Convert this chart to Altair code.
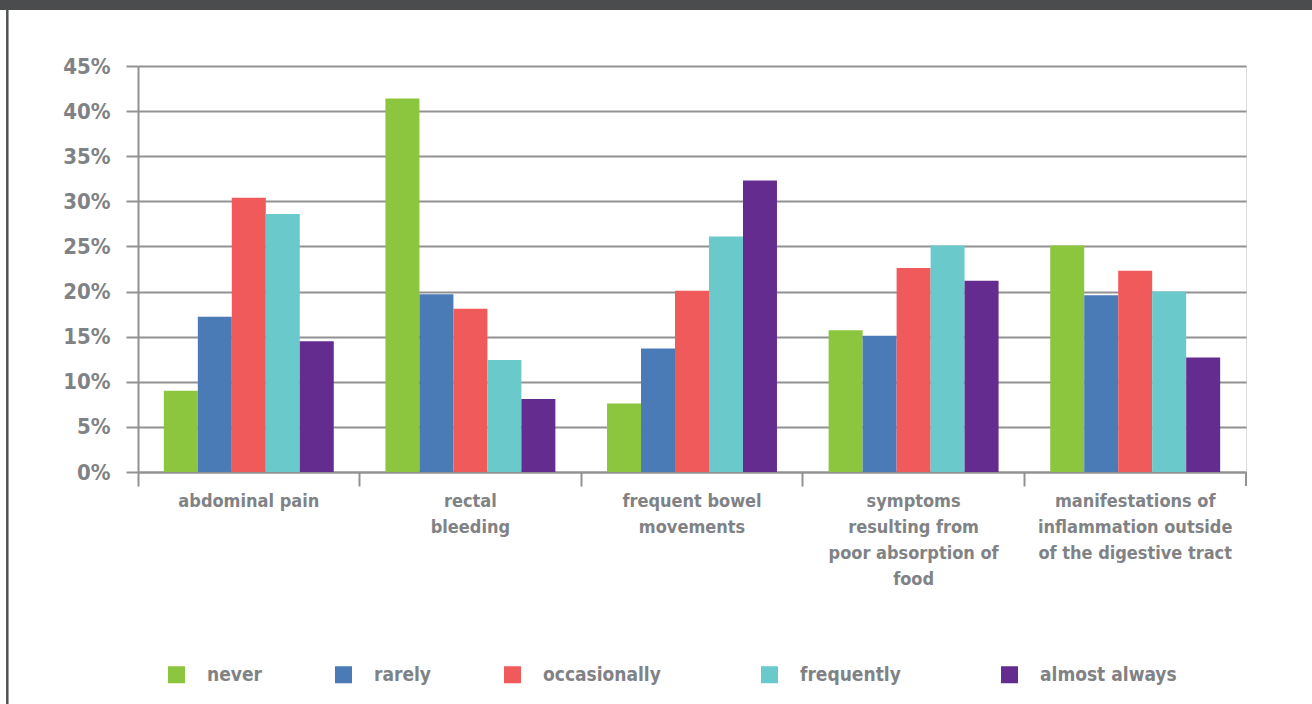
import altair as alt
import pandas as pd

categories = [
    "abdominal pain",
    "rectal|bleeding",
    "frequent bowel|movements",
    "symptoms|resulting from|poor absorption of|food",
    "manifestations of|inflammation outside|of the digestive tract",
]
series = ["never", "rarely", "occasionally", "frequently", "almost always"]
colors = ["#8CC63F", "#4B7BB7", "#F15A5B", "#6AC9CB", "#652C90"]

never = [9.0, 41.4, 7.6, 15.7, 25.1]
rarely = [17.2, 19.7, 13.7, 15.1, 19.6]
occasionally = [30.4, 18.1, 20.1, 22.6, 22.3]
frequently = [28.6, 12.4, 26.1, 25.1, 20.0]
almost_always = [14.5, 8.1, 32.3, 21.2, 12.7]

y_ticks = [0, 5, 10, 15, 20, 25, 30, 35, 40, 45]

rows = []
for s, vals in zip(series, [never, rarely, occasionally, frequently, almost_always]):
    for c, v in zip(categories, vals):
        rows.append({"category": c, "series": s, "value": v})
df = pd.DataFrame(rows)

FONT = "Liberation Sans Narrow, DejaVu Sans Condensed, sans-serif"
GRAY = "#808285"
LINE = "#929292"
W, H = 1108, 406

BLANK = "\u2800"
legend_label_expr = (
    f"datum.label == 'occasionally' ? datum.label + '{BLANK * 2}' : "
    f"datum.label == 'frequently' ? datum.label + '{BLANK * 2}' : datum.label"
)

bars = alt.Chart(df).mark_bar(strokeWidth=0).encode(
    x=alt.X(
        "category:N",
        sort=categories,
        scale=alt.Scale(paddingInner=0, paddingOuter=0),
        axis=alt.Axis(
            title=None,
            labelAngle=0,
            bandPosition=0,
            ticks=True,
            tickSize=14,
            tickWidth=2,
            tickColor=LINE,
            domain=True,
            domainColor=LINE,
            domainWidth=2,
            labelExpr="split(datum.label, '|')",
            labelFont=FONT,
            labelFontSize=18,
            labelFontWeight="bold",
            labelColor=GRAY,
            labelLineHeight=26,
            labelPadding=6,
            labelBaseline="top",
            labelLimit=300,
            grid=False,
        ),
    ),
    xOffset=alt.XOffset(
        "series:N",
        sort=series,
        scale=alt.Scale(paddingInner=0, paddingOuter=0.76),
    ),
    y=alt.Y(
        "value:Q",
        scale=alt.Scale(domain=[0, 45], nice=False),
        axis=alt.Axis(
            title=None,
            values=y_ticks,
            labelExpr="datum.value + '%'",
            grid=True,
            gridColor=LINE,
            gridWidth=2,
            tickSize=12,
            tickWidth=2,
            tickColor=LINE,
            domain=True,
            domainColor=LINE,
            domainWidth=2,
            labelFont=FONT,
            labelFontSize=22,
            labelFontWeight="bold",
            labelColor=GRAY,
            labelPadding=16,
        ),
    ),
    color=alt.Color(
        "series:N",
        sort=series,
        scale=alt.Scale(domain=series, range=colors),
        legend=alt.Legend(
            title=None,
            orient="none",
            legendX=29,
            legendY=599,
            padding=0,
            direction="horizontal",
            columns=5,
            symbolType="square",
            symbolSize=289,
            symbolStrokeWidth=0,
            symbolOpacity=1,
            labelOffset=21,
            columnPadding=72,
            labelExpr=legend_label_expr,
            labelFont=FONT,
            labelFontSize=19,
            labelFontWeight="bold",
            labelColor=GRAY,
            labelLimit=300,
        ),
    ),
)

deco = pd.DataFrame([{"k": 0}])
end_tick = alt.Chart(deco).mark_rule(color=LINE, strokeWidth=2).encode(
    x=alt.value(W), y=alt.value(H), y2=alt.value(H + 14)
)
header = alt.Chart(deco).mark_rule(color="#4B4C4E", strokeWidth=10).encode(
    x=alt.value(-138), x2=alt.value(1174), y=alt.value(-61)
)
border = alt.Chart(deco).mark_rule(color="#4F5152", strokeWidth=2.5).encode(
    x=alt.value(-130.7), y=alt.value(-56), y2=alt.value(638)
)

chart = alt.layer(bars, end_tick, header, border).properties(
    width=W,
    height=H,
    padding={"left": 138, "top": 66, "right": 66, "bottom": 232},
    autosize=alt.AutoSizeParams(type="none"),
).configure_view(stroke=None).configure(background="white")

chart.save("out.html", embed_options={"renderer": "svg", "actions": False})
